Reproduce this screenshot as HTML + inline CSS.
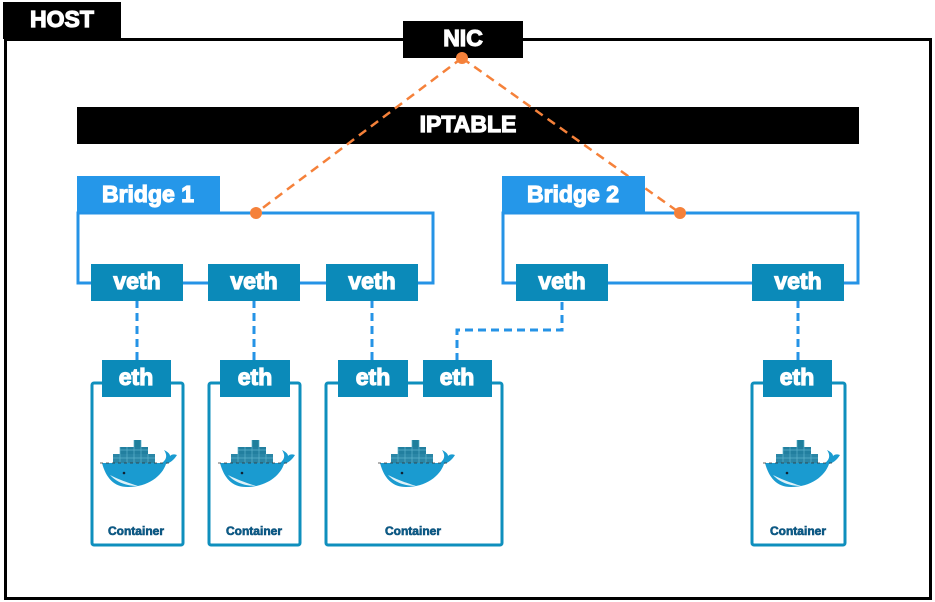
<!DOCTYPE html>
<html><head><meta charset="utf-8"><style>
body{margin:0;background:#fff;}
svg{display:block;font-family:"Liberation Sans",Arial,sans-serif;font-weight:bold;}
</style></head><body>
<svg width="935" height="602" viewBox="0 0 935 602" xmlns="http://www.w3.org/2000/svg">
<defs>
<g id="whale">
  <rect x="38" y="10" width="7" height="7" fill="#1e7f9c"/>
  <rect x="24" y="17" width="28" height="7" fill="#227f9f"/>
  <rect x="17" y="24" width="42" height="9" fill="#2a86a6"/>
  <path d="M24 17v16M31 17v16M38 10v23M45 10v23M52 24v9M17 28h42M24 20h28" stroke="#5cb2cc" stroke-width="0.7" fill="none"/>
  <path d="M6 33 H66 C70 30 72 26 68 20 C72 22 74 24 74 26 C76 24 78 24 81 25 C78 30 74 33 70 34 C66 46 52 57 32 57 C18 57 10 48 6 33Z" fill="#1a9bd0"/>
  <path d="M14 45 C22 54 34 56 42 56 C30 52 24 50 14 45Z" fill="#dff1f8"/>
  <circle cx="28" cy="43" r="1.3" fill="#123"/>
  <path d="M4 33 H74" stroke="#333" stroke-width="0.8" stroke-dasharray="3 3"/>
</g>
</defs>
<rect x="5.5" y="39.5" width="925" height="559" fill="none" stroke="#000" stroke-width="3"/>
<rect x="3" y="2" width="118" height="37" fill="#000"/>
<rect x="403" y="21" width="120" height="37" fill="#000"/>
<rect x="77" y="107" width="782" height="37" fill="#000"/>
<path d="M462 58 L256 213 M462 58 L680 213" stroke="#f5813a" stroke-width="2.5" stroke-dasharray="9 6" fill="none"/>
<rect x="78" y="213" width="355" height="70" fill="none" stroke="#2593e6" stroke-width="3"/>
<rect x="77" y="176" width="143" height="36" fill="#2597e9"/>
<rect x="503" y="213" width="355" height="70" fill="none" stroke="#2593e6" stroke-width="3"/>
<rect x="502" y="176" width="143" height="36" fill="#2597e9"/>
<circle cx="256" cy="213" r="6" fill="#f5813a"/>
<circle cx="680" cy="213" r="6" fill="#f5813a"/>
<circle cx="462" cy="58" r="6" fill="#f5813a"/>
<g stroke="#2593e6" stroke-width="3" stroke-dasharray="8 5" fill="none">
<path d="M137 300V360M254 300V360M372 300V360M562 302V330H457V360M798 300V360"/>
</g>
<g fill="#fff" stroke="#0f8fbd" stroke-width="3">
<rect x="92" y="383" width="91" height="162" rx="2"/>
<rect x="209" y="383" width="91" height="162" rx="2"/>
<rect x="326" y="383" width="176" height="162" rx="2"/>
<rect x="752" y="383" width="93" height="162" rx="2"/>
</g>
<g fill="#0b8ab9">
<rect x="91" y="264" width="92" height="37"/>
<rect x="208" y="264" width="92" height="37"/>
<rect x="326" y="264" width="92" height="37"/>
<rect x="516" y="264" width="92" height="37"/>
<rect x="752" y="264" width="92" height="37"/>
<rect x="102" y="360" width="69" height="37"/>
<rect x="220" y="360" width="70" height="37"/>
<rect x="338" y="360" width="70" height="37"/>
<rect x="423" y="360" width="69" height="37"/>
<rect x="763" y="360" width="69" height="37"/>
</g>
<g fill="#fff" stroke="#fff" stroke-width="1.2" font-size="23" text-anchor="middle">
<text x="62" y="27">HOST</text>
<text x="463" y="46">NIC</text>
<text x="468" y="132">IPTABLE</text>
<text x="148" y="202">Bridge 1</text>
<text x="573" y="202">Bridge 2</text>
<text x="137" y="289">veth</text><text x="254" y="289">veth</text><text x="372" y="289">veth</text>
<text x="562" y="289">veth</text><text x="798" y="289">veth</text>
<text x="136" y="385">eth</text><text x="255" y="385">eth</text><text x="373" y="385">eth</text>
<text x="457" y="385">eth</text><text x="797" y="385">eth</text>
</g>
<use href="#whale" x="96" y="430"/>
<use href="#whale" x="214" y="430"/>
<use href="#whale" x="374" y="430"/>
<use href="#whale" x="759" y="430"/>
<g fill="#0b5f8a" stroke="#0b4f7a" stroke-width="0.6" font-size="12" text-anchor="middle">
<text x="136" y="535">Container</text><text x="254" y="535">Container</text>
<text x="413" y="535">Container</text><text x="798" y="535">Container</text>
</g>
</svg>
</body></html>
